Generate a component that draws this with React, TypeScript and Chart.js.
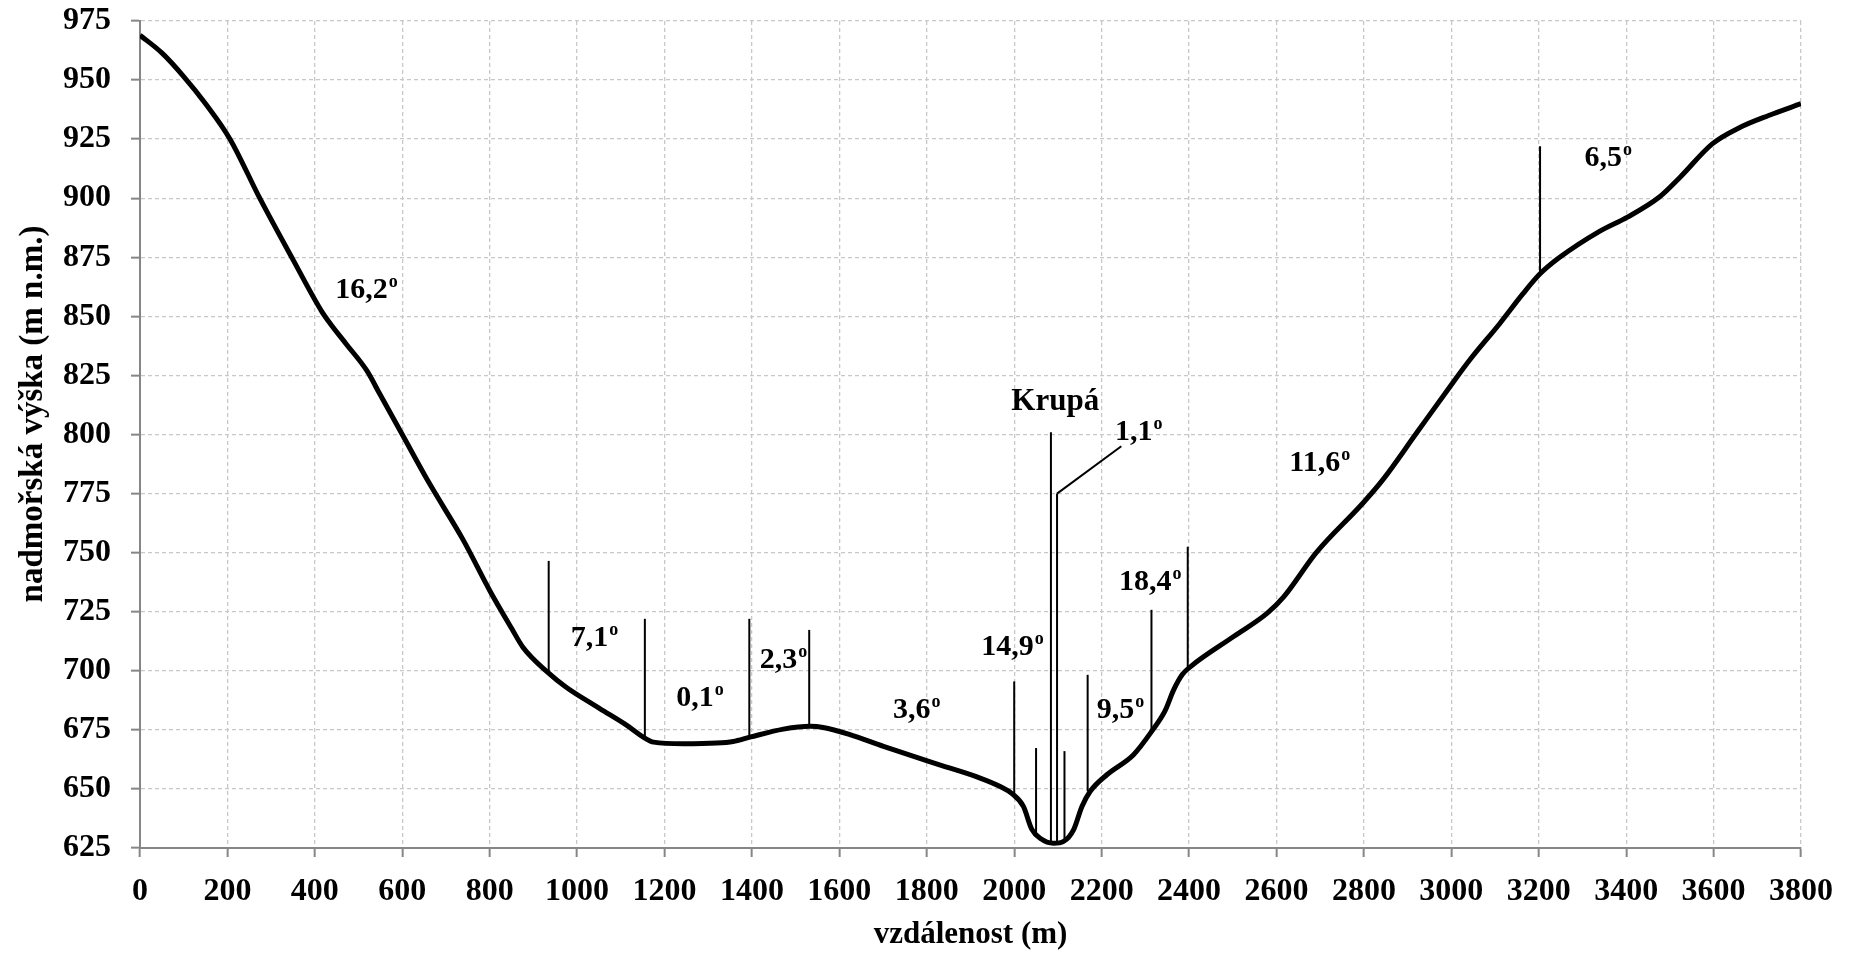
import React, { useEffect, useRef } from "react";
import { Chart, registerables } from "chart.js";

Chart.register(...registerables);

// ---- data ----
const distance = [
  0, 50, 100, 150, 206, 274, 350, 416, 435, 473, 519, 549, 600, 663, 739, 800, 850, 876, 935,
  975, 1052, 1113, 1155, 1175, 1243, 1319, 1357, 1395, 1472, 1533, 1563, 1624, 1701, 1815, 1922,
  1968, 1995, 2021, 2040, 2060, 2090, 2113, 2136, 2155, 2174, 2212, 2273, 2315, 2345, 2365, 2385,
  2405, 2502, 2579, 2617, 2691, 2798, 2844, 2920, 2996, 3042, 3111, 3164, 3203, 3248, 3339, 3403,
  3476, 3524, 3597, 3661, 3726, 3800,
];
const elevation = [
  969, 961.5, 951.5, 940, 925, 900, 874, 852, 847, 838, 827, 817, 800, 779, 755.5, 734, 718, 710, 699,
  693, 684, 677, 671.5, 669.8, 669.1, 669.4, 670.1, 671.9, 675.3, 676.5, 676, 673, 668, 661, 654.6,
  651, 648, 642.6, 633, 629, 627, 627.8, 632.8, 642.6, 649, 656, 664.5, 674.5, 683, 692, 698.5,
  702, 714.5, 724.4, 731.4, 750, 771, 781, 800.5, 820, 831.5, 847, 859.6, 868, 875, 886, 892,
  900.5, 909, 923, 930, 935, 940,
];

const markerDistance = [935, 1155, 1394, 1531, 2000, 2050, 2084, 2098, 2115, 2168, 2314, 2397, 3203];
const markerBase = [699, 671, 672, 676.5, 648, 630.5, 627, 627, 628, 649, 674.5, 700.5, 868];
const markerTop = [746.5, 722, 722, 717.3, 695.5, 667.3, 801, 775, 666, 698.3, 725.8, 752.5, 922];

const leaderDistance = [2098, 2245];
const leaderElevation = [775, 795];

const slopeLabels = ["16,2", "7,1", "0,1", "2,3", "3,6", "14,9", "9,5", "18,4", "1,1", "11,6", "6,5"];
const slopeLabelDistance = [518, 1040, 1281, 1472, 1777, 1996, 2243, 2311, 2285, 2699, 3359];
const slopeLabelElevation = [862, 714.8, 689.4, 705.3, 684.2, 711, 684.2, 738.4, 801.9, 788.6, 917.8];

const placeName = "Krupá";
const placeDistance = 2094;
const placeElevation = 813.8;

const xTitle = "vzdálenost (m)";
const yTitle = "nadmořská výška (m n.m.)";
const xMin = 0, xMax = 3800, xStep = 200;
const yMin = 625, yMax = 975, yStep = 25;

const FONT = "'Liberation Serif', 'Times New Roman', serif";

const labelPlugin = {
  id: "profileLabels",
  afterDatasetsDraw(chart: any) {
    const { ctx, scales } = chart;
    const x = scales.x, y = scales.y;
    ctx.save();
    ctx.fillStyle = "#000";
    ctx.textBaseline = "alphabetic";
    ctx.textAlign = "left";
    const main = `bold 30px ${FONT}`;
    const sup = `bold 18px ${FONT}`;
    slopeLabels.forEach((t, i) => {
      const px = x.getPixelForValue(slopeLabelDistance[i]);
      const py = y.getPixelForValue(slopeLabelElevation[i]);
      ctx.font = main;
      const w1 = ctx.measureText(t).width;
      ctx.font = sup;
      const w2 = ctx.measureText("o").width;
      const left = px - (w1 + w2 + 1) / 2;
      const base = py + 10;
      ctx.font = main;
      ctx.fillText(t, left, base);
      ctx.font = sup;
      ctx.fillText("o", left + w1 + 1, base - 11);
    });
    ctx.font = `bold 31px ${FONT}`;
    ctx.textAlign = "center";
    ctx.textBaseline = "middle";
    ctx.fillText(placeName, x.getPixelForValue(placeDistance), y.getPixelForValue(placeElevation));

    ctx.translate(33, 414);
    ctx.rotate(-Math.PI / 2);
    ctx.font = `bold 33px ${FONT}`;
    ctx.fillText(yTitle, 0, 0);
    ctx.restore();
  },
};

export default function App() {
  const ref = useRef<HTMLCanvasElement | null>(null);

  useEffect(() => {
    if (!ref.current) return;
    const datasets: any[] = [
      {
        data: distance.map((d, i) => ({ x: d, y: elevation[i] })),
        borderColor: "#000",
        borderWidth: 5,
        pointRadius: 0,
        fill: false,
        cubicInterpolationMode: "monotone",
        order: 0,
      },
    ];
    markerDistance.forEach((d, i) => {
      datasets.push({
        data: [
          { x: d, y: markerBase[i] },
          { x: d, y: markerTop[i] },
        ],
        borderColor: "#000",
        borderWidth: 2,
        pointRadius: 0,
        fill: false,
        order: 1,
      });
    });
    datasets.push({
      data: leaderDistance.map((d, i) => ({ x: d, y: leaderElevation[i] })),
      borderColor: "#000",
      borderWidth: 2,
      pointRadius: 0,
      fill: false,
      order: 1,
    });

    const tickFont = { family: FONT, size: 32, weight: "bold" as const };
    const chart = new Chart(ref.current, {
      type: "line",
      data: { datasets },
      options: {
        responsive: false,
        animation: false,
        devicePixelRatio: 1,
        layout: { padding: { top: 21, right: 51, bottom: 0, left: 0 } },
        plugins: { legend: { display: false }, tooltip: { enabled: false } },
        scales: {
          x: {
            type: "linear",
            min: xMin,
            max: xMax,
            ticks: {
              stepSize: xStep, font: tickFont, color: "#000", padding: 16, maxRotation: 0, autoSkip: false,
              callback: (v: any) => String(v),
            },
            grid: { color: "#c8c8c8", lineWidth: 1.3, tickColor: "#868686", tickLength: 9, tickWidth: 2 },
            border: { color: "#868686", width: 2, dash: [4, 3] },
            title: { display: true, text: xTitle, font: { family: FONT, size: 31, weight: "bold" }, color: "#000", padding: { top: 0, bottom: 8 } },
            afterFit: (s: any) => { s.height = 114; },
          },
          y: {
            type: "linear",
            min: yMin,
            max: yMax,
            ticks: { stepSize: yStep, font: tickFont, color: "#000", padding: 20, callback: (v: any) => String(v) },
            grid: { color: "#c8c8c8", lineWidth: 1.3, tickColor: "#868686", tickLength: 9, tickWidth: 2 },
            border: { color: "#868686", width: 2, dash: [4, 3] },
            afterFit: (s: any) => { s.width = 140; s.paddingTop = 0; s.paddingBottom = 0; },
          },
        },
      },
      plugins: [labelPlugin],
    });
    return () => chart.destroy();
  }, []);

  return (
    <div style={{ position: "fixed", left: 0, top: 0, width: 1852, height: 962, background: "#fff" }}>
      <canvas ref={ref} width={1852} height={962} />
    </div>
  );
}
